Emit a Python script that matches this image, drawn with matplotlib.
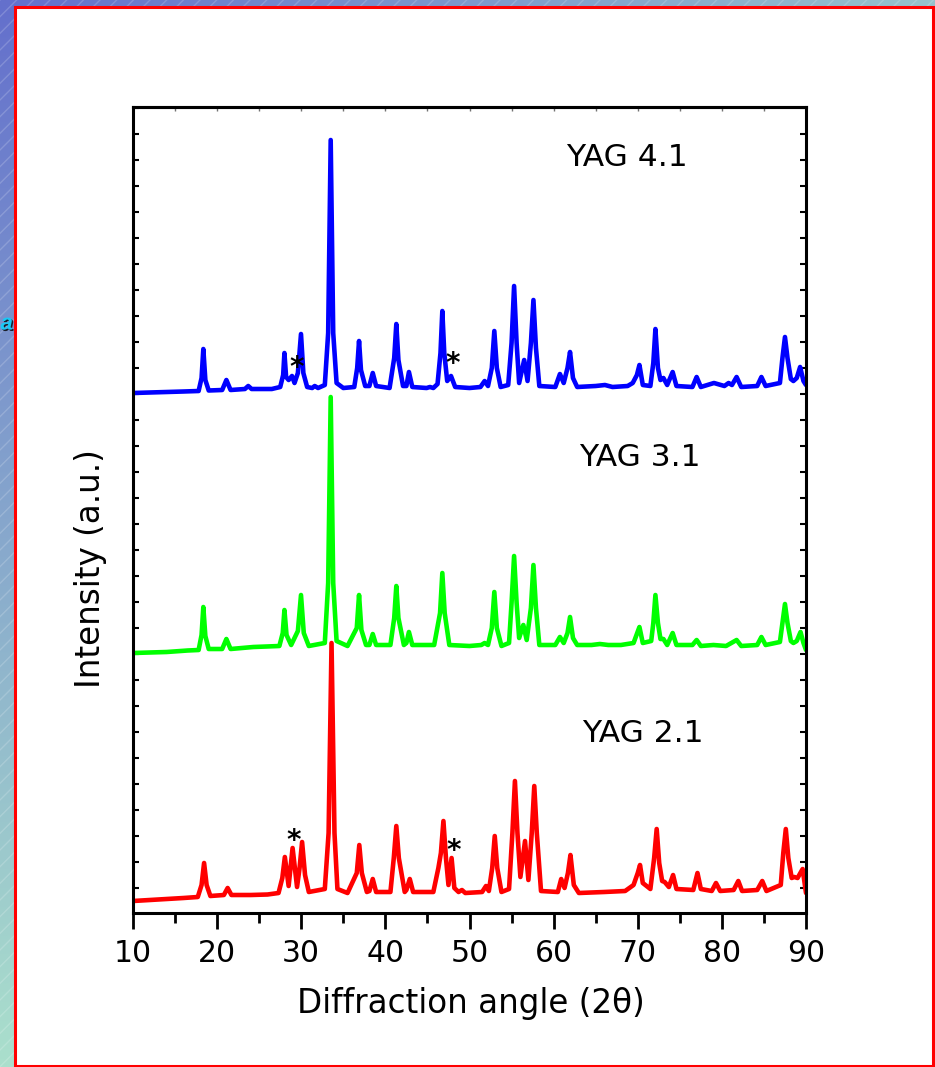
import numpy as np
import matplotlib
matplotlib.use("Agg")
import matplotlib.pyplot as plt
from matplotlib.patches import Rectangle
from matplotlib.colors import to_rgb
import matplotlib.patheffects as pe

# ── Data (2θ in degrees, intensity in a.u., stacked) ──
yag41_2theta = [10.0, 12.0, 14.0, 16.0, 17.8, 18.15, 18.36, 18.6, 19.0, 20.6, 21.1, 21.6,
                23.3, 23.7, 24.1, 26.5, 27.5, 27.85, 28.0, 28.2, 28.5, 28.9, 29.2, 29.6,
                29.97, 30.25, 30.7, 31.3, 31.6, 32.0, 32.8, 33.2, 33.5, 33.8, 34.2, 35.0,
                36.3, 36.65, 36.87, 37.1, 37.6, 38.1, 38.5, 38.9, 40.5, 41.05, 41.3, 41.55,
                42.1, 42.5, 42.8, 43.2, 44.9, 45.3, 45.7, 46.2, 46.55, 46.77, 47.0, 47.35,
                47.8, 48.3, 50.0, 51.3, 51.8, 52.2, 52.65, 52.95, 53.25, 53.7, 54.6, 55.0,
                55.3, 55.6, 55.9, 56.5, 56.9, 57.3, 57.6, 57.9, 58.3, 60.2, 60.75, 61.2,
                61.65, 61.95, 62.3, 62.8, 65.0, 66.1, 67.0, 68.8, 69.4, 69.9, 70.2, 70.6,
                71.5, 71.85, 72.1, 72.4, 72.7, 73.05, 73.5, 74.15, 74.6, 76.5, 77.0, 77.5,
                79.06, 80.3, 80.8, 81.2, 81.75, 82.3, 84.2, 84.7, 85.2, 86.9, 87.2, 87.5,
                87.8, 88.2, 88.5, 88.9, 89.3, 89.7, 90.0]
yag41_int = [520, 520.5, 521, 521.5, 522, 535, 564, 533, 522.5, 523, 533, 523,
             524, 527, 524, 524, 526, 538, 560, 536, 533, 537, 530, 540,
             579, 540, 526, 525, 527, 525, 528, 580, 773, 580, 530, 525,
             526, 545, 572, 543, 527, 527, 540, 527, 525, 555, 589, 553,
             527, 527, 541, 526, 525, 526, 525, 529, 560, 602, 560, 532,
             537, 526, 525, 526, 532, 527, 545, 582, 545, 526, 528, 570,
             627, 570, 530, 553, 532, 570, 613, 565, 527, 526, 539, 530,
             545, 561, 535, 526, 527, 528, 526, 527, 530, 538, 548, 528,
             527, 550, 584, 545, 533, 535, 528, 541, 527, 526, 536, 526,
             530, 527, 530, 528, 536, 526, 527, 536, 527, 530, 555, 576,
             555, 534, 532, 535, 546, 532, 528]

yag31_2theta = [10.0, 12.0, 14.0, 16.5, 17.8, 18.15, 18.36, 18.6, 19.0, 20.6, 21.1, 21.6,
                24.3, 25.9, 27.4, 27.8, 28.0, 28.25, 28.8, 29.6, 29.97, 30.3, 30.9, 32.8,
                33.2, 33.5, 33.8, 34.2, 35.5, 36.6, 36.87, 37.15, 37.7, 38.1, 38.5, 38.9,
                40.6, 41.05, 41.3, 41.55, 42.2, 42.5, 42.8, 43.2, 45.8, 46.5, 46.77, 47.05,
                47.6, 50.0, 51.4, 51.8, 52.2, 52.65, 52.95, 53.25, 53.8, 54.7, 55.0, 55.3,
                55.6, 55.9, 56.4, 56.8, 57.3, 57.6, 57.9, 58.3, 60.2, 60.75, 61.2, 61.65,
                61.95, 62.3, 62.8, 64.5, 65.5, 66.5, 68.0, 69.5, 70.2, 70.6, 71.6, 71.85,
                72.1, 72.4, 72.7, 73.05, 73.5, 74.15, 74.6, 76.5, 77.0, 77.5, 79.0, 80.5,
                81.75, 82.3, 84.2, 84.7, 85.2, 86.9, 87.2, 87.5, 87.8, 88.2, 88.5, 88.9,
                89.35, 89.7, 90.0]
yag31_int = [260, 260.5, 261, 262.5, 263, 278, 306, 277, 264, 264, 274, 264,
             266, 266.5, 267, 280, 303, 278, 268, 282, 318, 280, 267, 270,
             330, 516, 330, 272, 267, 285, 318, 283, 268, 268, 279, 268,
             268, 295, 327, 295, 268, 270, 281, 268, 268, 300, 340, 300,
             268, 267, 268, 270, 268, 285, 321, 285, 267, 270, 310, 357,
             310, 275, 288, 273, 305, 348, 305, 268, 268, 276, 270, 280,
             296, 275, 268, 268, 269, 268, 268, 270, 286, 270, 272, 290,
             318, 290, 274, 274, 268, 280, 268, 268, 273, 267, 268, 267,
             273, 267, 268, 276, 268, 271, 290, 309, 290, 272, 270, 272,
             281, 270, 263]

yag21_2theta = [10.0, 12.0, 14.0, 16.0, 17.7, 18.15, 18.45, 18.75, 19.2, 20.8, 21.25, 21.7,
                24.0, 26.0, 27.3, 27.75, 28.05, 28.5, 28.97, 29.5, 29.8, 30.1, 30.45, 30.9,
                32.8, 33.25, 33.6, 33.95, 34.3, 35.5, 36.6, 36.9, 37.2, 37.8, 38.1, 38.5,
                38.9, 40.6, 41.0, 41.3, 41.6, 42.3, 42.5, 42.9, 43.3, 45.7, 46.3, 46.6,
                46.9, 47.2, 47.5, 47.87, 48.2, 48.7, 49.1, 49.5, 51.5, 51.96, 52.3, 52.7,
                53.0, 53.3, 53.8, 54.7, 55.1, 55.4, 55.7, 56.05, 56.6, 57.0, 57.4, 57.7,
                58.0, 58.5, 60.5, 60.9, 61.3, 61.7, 62.0, 62.4, 63.0, 66.0, 68.5, 69.5,
                70.0, 70.27, 70.6, 71.5, 71.95, 72.25, 72.55, 72.9, 73.2, 73.7, 74.2, 74.6,
                76.6, 77.1, 77.5, 78.8, 79.3, 79.8, 81.4, 81.95, 82.4, 84.2, 84.8, 85.3,
                87.0, 87.3, 87.6, 87.9, 88.3, 88.6, 89.0, 89.6, 90.0]
yag21_int = [12, 13, 14, 15, 16, 28, 50, 28, 17, 18, 25, 18,
             18, 18.5, 20, 35, 56, 27, 65, 26, 45, 71, 38, 21,
             24, 80, 270, 80, 24, 20, 40, 68, 40, 21, 22, 34,
             21, 21, 55, 87, 55, 21, 23, 34, 21, 21, 45, 60,
             92, 55, 28, 55, 25, 21, 23, 20, 21, 27, 22, 45,
             77, 45, 21, 24, 80, 132, 80, 36, 72, 33, 80, 127,
             80, 22, 21, 34, 25, 40, 58, 28, 20, 21, 22, 28,
             40, 48, 30, 24, 55, 84, 50, 32, 31, 26, 38, 24,
             23, 40, 24, 22, 30, 22, 23, 32, 22, 23, 32, 22,
             28, 60, 84, 55, 35, 36, 35, 44, 20]

sample_names = ["YAG 4.1", "YAG 3.1", "YAG 2.1"]
star_2theta = [29.43, 48.0, 29.14, 48.16]
star_int = [553, 557, 80, 70]

W, H = 935, 1067
fig = plt.figure(figsize=(W / 100, H / 100), dpi=100)

# ── Slide background: gradient, faint hatching, white panel with red border ──
bg = fig.add_axes([0, 0, 1, 1], zorder=-1)
bg.set_xlim(0, W)
bg.set_ylim(H, 0)
bg.axis("off")
u, v = np.meshgrid(np.linspace(0, 1, 64), np.linspace(0, 1, 64))
tl, tr, bl, br = (np.array(to_rgb(c)) for c in ("#6470cc", "#96c2cc", "#aadfcc", "#c8f0d8"))
grad = (((1 - u) * (1 - v))[..., None] * tl + (u * (1 - v))[..., None] * tr
        + ((1 - u) * v)[..., None] * bl + (u * v)[..., None] * br)
bg.imshow(grad, extent=(0, W, H, 0), aspect="auto", interpolation="bilinear")
bg.add_patch(Rectangle((0, 0), W, H, facecolor="none", edgecolor=(1, 1, 1, 0.18),
                       hatch="//", lw=0))
bg.text(0.5, 324, "a", fontsize=16, fontweight="bold", fontstyle="italic",
        family="Liberation Sans", color="#19c8f5", ha="left", va="center",
        path_effects=[pe.withSimplePatchShadow(offset=(1, -1), shadow_rgbFace="k", alpha=0.8)])
bg.add_patch(Rectangle((15, 6.5), 917.5, 1059.5, facecolor="white", edgecolor="red",
                       lw=2.2, zorder=3))

# ── XRD patterns ──
ax = fig.add_axes([133 / W, 1 - 913 / H, 673 / W, 806 / H])
line_kw = dict(lw=3.3, solid_joinstyle="round", solid_capstyle="round")
ax.plot(yag41_2theta, yag41_int, color="#0000ff", **line_kw)
ax.plot(yag31_2theta, yag31_int, color="#00ff00", **line_kw)
ax.plot(yag21_2theta, yag21_int, color="#ff0000", **line_kw)

for name, tx, ty in zip(sample_names, [68.66, 70.2, 70.56], [756, 456, 180]):
    ax.text(tx, ty, name, fontsize=22.5, ha="center", va="center")
for sx, sy in zip(star_2theta, star_int):
    ax.text(sx, sy - 16, "*", fontsize=20, fontweight="bold", ha="center", va="baseline")

ax.set_xlim(10, 90)
ax.set_ylim(0, 806)
ax.set_xticks(np.arange(10, 91, 10))
ax.set_xticks(np.arange(15, 90, 10), minor=True)
ax.set_yticks(np.arange(25, 806, 26))
ax.tick_params(axis="x", which="major", direction="out", length=11.5, width=2,
               labelsize=21.5, pad=7.5)
ax.tick_params(axis="x", which="minor", direction="out", length=7, width=2)
ax.tick_params(axis="y", which="both", direction="in", length=4, width=1.5,
               left=True, right=True, labelleft=False)
for s in ax.spines.values():
    s.set_linewidth(2.2)

top = ax.secondary_xaxis("top")
top.set_xticks(np.arange(10, 91, 5))
top.tick_params(direction="in", length=3, width=1, color="0.45", labeltop=False)
top.spines["top"].set_linewidth(2.2)

ax.set_xlabel("Diffraction angle (2\u03b8)", fontsize=23.5)
ax.xaxis.set_label_coords(0.502, -0.0918)
ax.set_ylabel("Intensity (a.u.)", fontsize=23.5)
ax.yaxis.set_label_coords(-0.0386, 0.4268)

plt.savefig("out.png", dpi=100)
